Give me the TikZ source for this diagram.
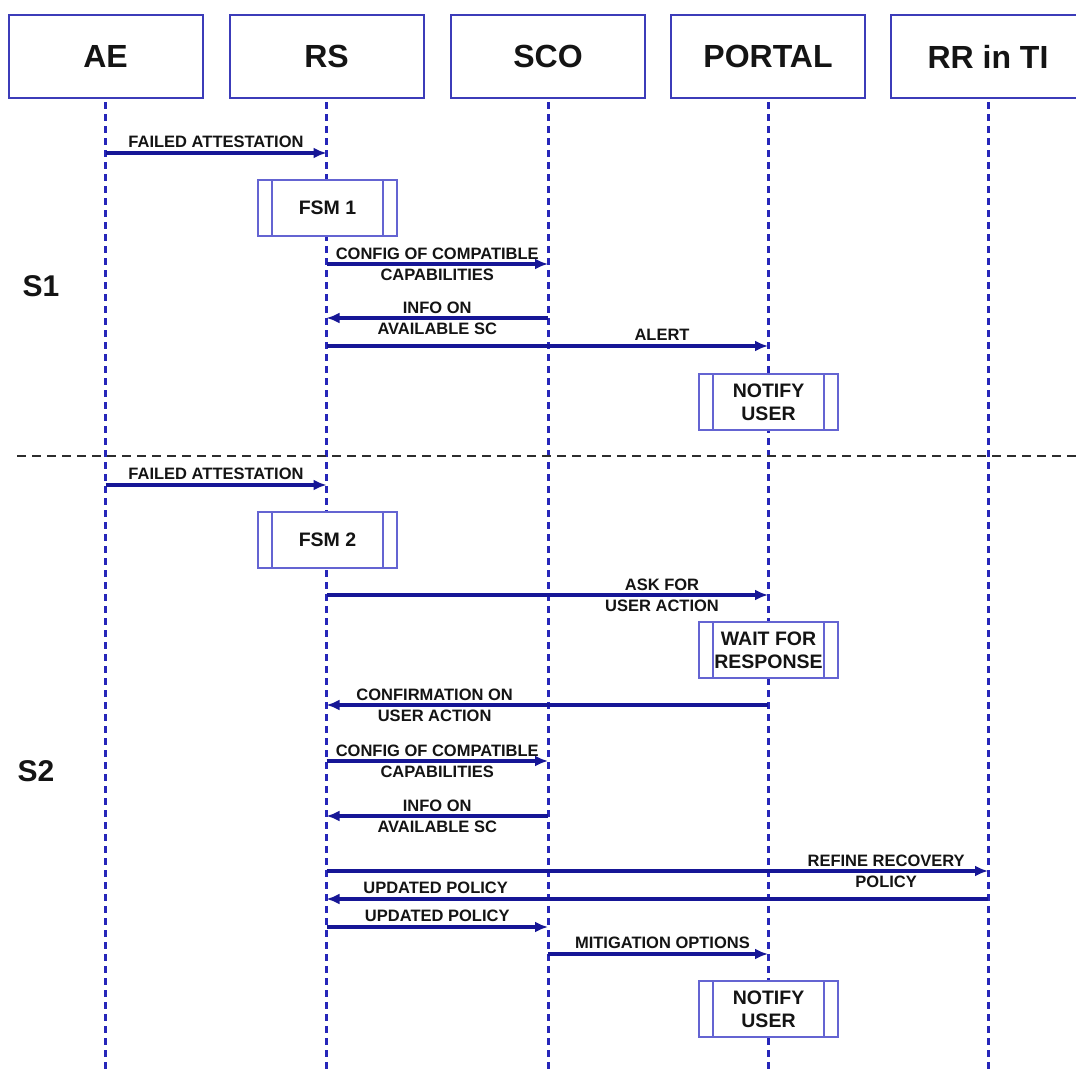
\documentclass[tikz,border=0pt]{standalone}
\usepackage{fontspec}
\setmainfont{Liberation Sans}
\usetikzlibrary{arrows.meta}
\definecolor{lifeblue}{RGB}{38,38,185}
\definecolor{msgblue}{RGB}{22,22,150}
\definecolor{boxblue}{RGB}{60,60,185}
\definecolor{procblue}{RGB}{100,100,210}
\definecolor{txt}{RGB}{20,20,20}
\definecolor{sepgray}{RGB}{45,45,45}
\begin{document}
\begin{tikzpicture}[x=1pt,y=-1pt,
  actor/.style={draw=boxblue, line width=2pt, fill=white, minimum width=194pt,
    minimum height=83pt, inner sep=0pt, text=txt,
    font=\fontsize{32}{38}\selectfont\bfseries},
  life/.style={draw=lifeblue, line width=3pt, dash pattern=on 7pt off 5pt},
  msg/.style={draw=msgblue, line width=3.2pt, -{Latex[length=13pt,width=11pt]}},
  lbl/.style={font=\fontsize{16.5}{21}\selectfont\bfseries, text=txt,
    inner sep=0pt, align=center},
  proc/.style={draw=procblue, line width=1.5pt, fill=white, minimum width=139pt,
    minimum height=56pt, inner sep=0pt, align=center, text=txt,
    font=\fontsize{19.5}{23}\selectfont\bfseries,
    path picture={\draw[procblue, line width=1.5pt]
      ([xshift=14pt]path picture bounding box.north west) --
      ([xshift=14pt]path picture bounding box.south west)
      ([xshift=-14pt]path picture bounding box.north east) --
      ([xshift=-14pt]path picture bounding box.south east);}},
  sepline/.style={draw=sepgray, line width=2.8pt, dash pattern=on 9pt off 6pt},
  phase/.style={font=\fontsize{30}{34}\selectfont\bfseries, text=txt, inner sep=0pt}
]
\clip (0,0) rectangle (1076,1068);
\fill[white] (0,0) rectangle (1076,1068);

% participants
\node[actor] (ae)     at (105.5,56.5) {AE};
\node[actor] (rs)     at (326.5,56.5) {RS};
\node[actor] (sco)    at (548,56.5)   {SCO};
\node[actor] (portal) at (768,56.5)   {PORTAL};
\node[actor] (rr)     at (988,56.5)   {RR in TI};

% lifelines
\coordinate (bot) at (0,1070);
\foreach \p in {ae,rs,sco,portal,rr}
  \draw[life] ([yshift=-3pt]\p.south) -- (\p.south |- bot);

% phase separator
\coordinate (sepL) at (17,456);
\coordinate (sepR) at (1076,456);
\draw[sepline] (sepL) -- (sepR);

% phase labels
\node[phase] (s1) at (41,286) {S1};
\node[phase] (s2) at (36,771) {S2};

% message rows
\coordinate (m1)  at (0,153);
\coordinate (m2)  at (0,264);
\coordinate (m3)  at (0,318);
\coordinate (m4)  at (0,346);
\coordinate (m5)  at (0,485);
\coordinate (m6)  at (0,595);
\coordinate (m7)  at (0,705);
\coordinate (m8)  at (0,761);
\coordinate (m9)  at (0,816);
\coordinate (m10) at (0,871);
\coordinate (m11) at (0,899);
\coordinate (m12) at (0,927);
\coordinate (m13) at (0,954);

% S1
\draw[msg] (ae |- m1) -- node[lbl, yshift=11pt] {FAILED ATTESTATION} (rs |- m1);
\node[proc] (fsm1) at (327.5,208) {FSM 1};
\draw[msg] (rs |- m2) -- node[lbl] {CONFIG OF COMPATIBLE\\CAPABILITIES} (sco |- m2);
\draw[msg] (sco |- m3) -- node[lbl] {INFO ON\\AVAILABLE SC} (rs |- m3);
\draw[msg] (rs |- m4) -- node[lbl, pos=0.76, yshift=11pt] {ALERT} (portal |- m4);
\node[proc] (notify1) at (768.5,402) {NOTIFY\\USER};

% S2
\draw[msg] (ae |- m5) -- node[lbl, yshift=11pt] {FAILED ATTESTATION} (rs |- m5);
\node[proc] (fsm2) at (327.5,540) {FSM 2};
\draw[msg] (rs |- m6) -- node[lbl, pos=0.76] {ASK FOR\\USER ACTION} (portal |- m6);
\node[proc] (wait) at (768.5,650) {WAIT FOR\\RESPONSE};
\draw[msg] (portal |- m7) -- node[lbl, pos=0.755] {CONFIRMATION ON\\USER ACTION} (rs |- m7);
\draw[msg] (rs |- m8) -- node[lbl] {CONFIG OF COMPATIBLE\\CAPABILITIES} (sco |- m8);
\draw[msg] (sco |- m9) -- node[lbl] {INFO ON\\AVAILABLE SC} (rs |- m9);
\draw[msg] (rs |- m10) -- node[lbl, pos=0.846] {REFINE RECOVERY\\POLICY} (rr |- m10);
\draw[msg] (rr |- m11) -- node[lbl, pos=0.835, yshift=11pt] {UPDATED POLICY} (rs |- m11);
\draw[msg] (rs |- m12) -- node[lbl, yshift=11pt] {UPDATED POLICY} (sco |- m12);
\draw[msg] (sco |- m13) -- node[lbl, pos=0.52, yshift=11pt] {MITIGATION OPTIONS} (portal |- m13);
\node[proc] (notify2) at (768.5,1009) {NOTIFY\\USER};
\end{tikzpicture}
\end{document}
